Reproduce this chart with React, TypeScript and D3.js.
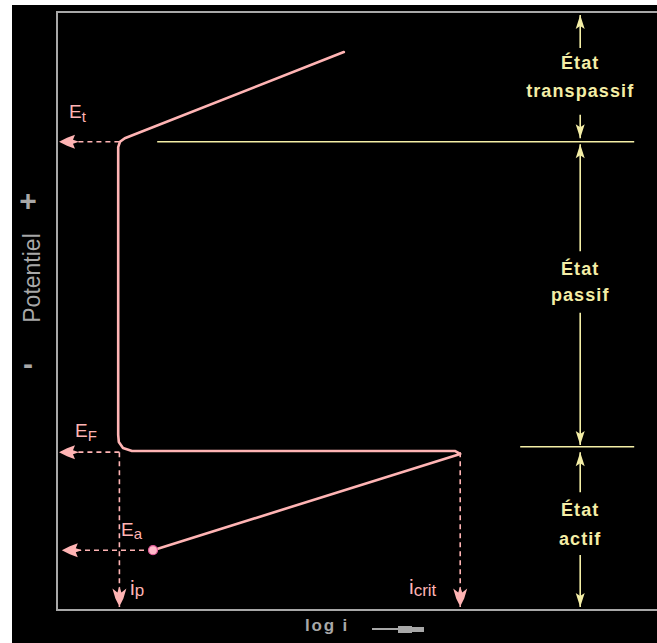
import React from "react";
import * as d3 from "d3";

// Polarization curve (arbitrary units: log i 0..100, potential 0..100)
const curveLogI = [16.0, 67.2, 66.3, 12.5, 11.0, 10.3, 10.2, 10.2, 10.5, 11.3, 47.8];
const curvePotential = [10.0, 26.1, 26.6, 26.6, 27.1, 28.1, 29.3, 77.4, 78.3, 78.9, 93.3];

// Characteristic values
const E_t = 78.3;
const E_F = 26.4;
const E_a = 10.0;
const i_p = 10.4;
const i_a = 16.0;
const i_crit = 67.2;

// Domain boundaries (yellow lines)
const boundaryLevels = [78.3, 27.3];
const boundaryStarts = [16.7, 77.2];
const boundaryEnd = 96.2;

// Region labels
const regionLines = [["État", "transpassif"], ["État", "passif"], ["État", "actif"]];
const regionColumn = 87.2;

const W = 657;
const H = 643;
const PINK = "#ffb4b4";
const YELLOW = "#f4eea6";
const GRAY = "#a8a8a8";

export default function App() {
  const x = d3.scaleLinear().domain([0, 100]).range([57, 657]);
  const y = d3.scaleLinear().domain([0, 100]).range([610, 12]);

  const pts: [number, number][] = curveLogI.map((v, i) => [v, curvePotential[i]]);
  const line = d3
    .line<[number, number]>()
    .x((d) => x(d[0]))
    .y((d) => y(d[1]));

  // arrowheads
  const leftHead = (tx: number, ty: number) =>
    `M${tx},${ty} L${tx + 8},${ty - 4} L${tx + 16},${ty - 7} L${tx + 14},${ty - 2} L${tx + 20},${ty} L${tx + 14},${ty + 2} L${tx + 16},${ty + 7} L${tx + 8},${ty + 4} Z`;
  const downHead = (tx: number, ty: number) =>
    `M${tx},${ty} L${tx - 4},${ty - 8} L${tx - 7},${ty - 18} L${tx - 2},${ty - 14} L${tx},${ty - 20} L${tx + 2},${ty - 14} L${tx + 7},${ty - 18} L${tx + 4},${ty - 8} Z`;
  const yUp = (tx: number, ty: number) =>
    `M${tx},${ty} L${tx + 4.5},${ty + 14} L${tx},${ty + 11} L${tx - 4.5},${ty + 14} Z`;
  const yDown = (tx: number, ty: number) =>
    `M${tx},${ty} L${tx + 4.5},${ty - 14} L${tx},${ty - 11} L${tx - 4.5},${ty - 14} Z`;

  const cx = x(regionColumn);
  // region arrows: [shaftStartY(data), tipY(data)]
  const regionArrows: [number, number][] = [
    [94.0, 99.5],
    [82.8, 78.9],
    [60.0, 77.9],
    [49.7, 27.6],
    [19.7, 26.4],
    [9.2, 0.5],
  ];
  const regionBaselines = [
    [69, 97],
    [275, 301],
    [516, 545],
  ];

  const dash = "5,4";
  const labelFont = "Arial, 'Liberation Sans', sans-serif";

  return (
    <svg
      width={W}
      height={H}
      style={{ position: "absolute", left: 0, top: 0 }}
      fontFamily={labelFont}
    >
      <rect x={0} y={0} width={W} height={H} fill="#fff" />
      <rect x={12} y={5} width={W - 12} height={H - 5} fill="#000" />

      {/* frame */}
      <path
        d={`M${x(100) + 5},${y(100)} H${x(0)} V${y(0)} H${x(100) + 5}`}
        fill="none"
        stroke={GRAY}
        strokeWidth={2}
      />

      {/* boundary lines */}
      {boundaryLevels.map((lv, i) => (
        <line
          key={i}
          x1={x(boundaryStarts[i])}
          x2={x(boundaryEnd)}
          y1={y(lv)}
          y2={y(lv)}
          stroke={YELLOW}
          strokeWidth={1.5}
        />
      ))}

      {/* region arrows */}
      {regionArrows.map(([s, t], i) => {
        const up = t > s;
        return (
          <g key={i}>
            <line x1={cx} x2={cx} y1={y(s)} y2={y(t)} stroke={YELLOW} strokeWidth={1.6} />
            <path d={up ? yUp(cx, y(t)) : yDown(cx, y(t))} fill={YELLOW} />
          </g>
        );
      })}
      {regionLines.map((ls, i) =>
        ls.map((t, j) => (
          <text
            key={`${i}-${j}`}
            x={cx}
            y={regionBaselines[i][j]}
            textAnchor="middle"
            fill={YELLOW}
            fontSize={18}
            fontWeight="bold"
            letterSpacing={1.1}
          >
            {t}
          </text>
        ))
      )}

      {/* dashed guides */}
      <g stroke={PINK} strokeWidth={1.6} strokeDasharray={dash} fill="none">
        <line x1={x(i_p)} x2={x(0) + 4} y1={y(E_t)} y2={y(E_t)} />
        <line x1={x(i_p)} x2={x(0) + 4} y1={y(E_F)} y2={y(E_F)} />
        <line x1={x(i_a)} x2={x(1)} y1={y(E_a)} y2={y(E_a)} />
        <line x1={x(i_p)} x2={x(i_p)} y1={y(E_F)} y2={y(0.5)} />
        <line x1={x(i_crit)} x2={x(i_crit)} y1={y(E_F)} y2={y(0.5)} />
      </g>
      <g fill={PINK}>
        <path d={leftHead(x(0) + 2, y(E_t))} />
        <path d={leftHead(x(0) + 2, y(E_F))} />
        <path d={leftHead(x(0.8), y(E_a))} />
        <path d={downHead(x(i_p), y(0.6))} />
        <path d={downHead(x(i_crit), y(0.6))} />
      </g>

      {/* polarization curve */}
      <path
        d={line(pts) || ""}
        fill="none"
        stroke={PINK}
        strokeWidth={2.6}
        strokeLinejoin="round"
        strokeLinecap="round"
      />
      <circle cx={x(i_a)} cy={y(E_a)} r={4.5} fill="#ffb8c8" stroke="#e05a98" strokeWidth={1.2} />

      {/* pink labels */}
      <g fill={PINK} fontSize={19}>
        <text x={69} y={118}>
          E<tspan fontSize={15} dy={4}>t</tspan>
        </text>
        <text x={75} y={437}>
          E<tspan fontSize={15} dy={4}>F</tspan>
        </text>
        <text x={121} y={536}>
          E<tspan fontSize={15} dy={3}>a</tspan>
        </text>
        <text x={130} y={595} fontSize={21}>
          i<tspan fontSize={17} dy={1}>p</tspan>
        </text>
        <text x={409} y={594} fontSize={21}>
          i<tspan fontSize={17} dy={2}>crit</tspan>
        </text>
      </g>

      {/* axis labels */}
      <text
        transform={`translate(40,278) rotate(-90)`}
        textAnchor="middle"
        fill={GRAY}
        fontSize={23}
      >
        Potentiel
      </text>
      <text x={28} y={211} textAnchor="middle" fill={GRAY} fontSize={30} fontWeight="bold">
        +
      </text>
      <text x={28} y={374} textAnchor="middle" fill={GRAY} fontSize={30} fontWeight="bold">
        -
      </text>
      <text x={305} y={631} fill={GRAY} fontSize={17} fontWeight="bold" letterSpacing={1.8}>
        log i
      </text>
      <line x1={372} x2={402} y1={629} y2={629} stroke={GRAY} strokeWidth={2} />
      <path d="M398,626 L412,626 L412,627 L424,627 L424,632 L412,632 L412,633 L398,633 Z" fill={GRAY} />
    </svg>
  );
}
